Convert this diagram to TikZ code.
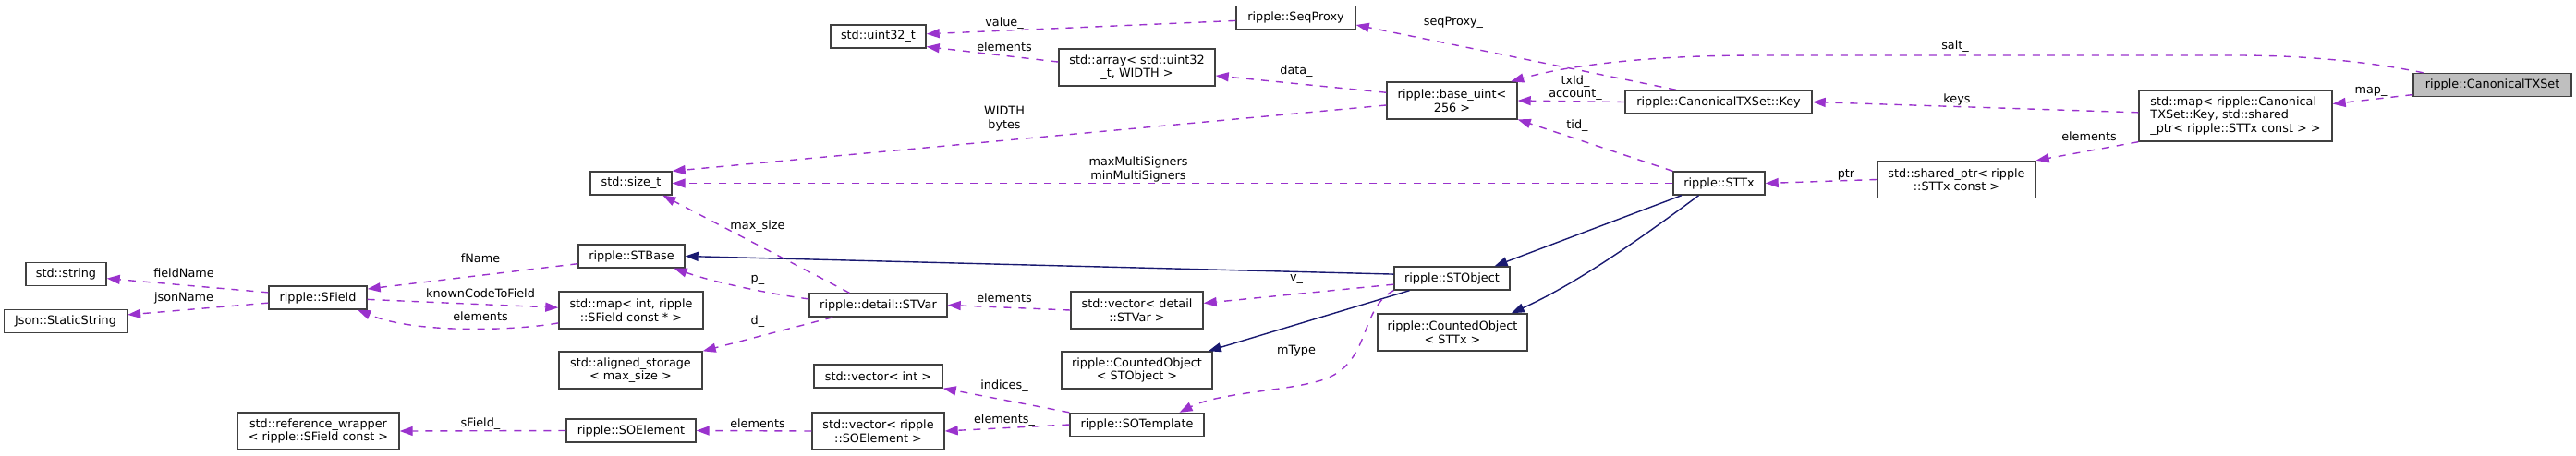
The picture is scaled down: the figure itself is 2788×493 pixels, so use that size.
\documentclass[tikz,border=0pt]{standalone}
\usepackage{fontspec}
\setmainfont{DejaVu Sans}
\usetikzlibrary{arrows.meta}

\definecolor{mempurple}{HTML}{9A32CD}
\definecolor{inhblue}{HTML}{191970}
\definecolor{boxgray}{HTML}{404040}
\definecolor{rootfill}{HTML}{BFBFBF}

\tikzset{
  cls/.style={draw=boxgray, line width=1.4pt, fill=white, inner sep=0pt,
    minimum height=25pt, align=center, font=\fontsize{12.8}{14.5}\selectfont},
  cls2/.style={cls, minimum height=40pt},
  member/.style={draw=mempurple, line width=1.4pt, dash pattern=on 8pt off 8pt,
    -{Triangle[length=14pt,width=10pt,fill=mempurple]}},
  inherit/.style={draw=inhblue, line width=1.4pt,
    -{Triangle[length=14pt,width=10pt,fill=inhblue]}},
  lbl/.style={inner sep=0pt, align=center, font=\fontsize{12.8}{14.5}\selectfont},
}

\begin{document}
\begin{tikzpicture}[x=1pt, y=-1pt]

\useasboundingbox (0,0) rectangle (2788,493);

\node[cls, minimum width=171pt, fill=rootfill] (root) at (2697.5,92) {ripple::CanonicalTXSet};
\node[cls, minimum width=209pt, minimum height=55pt, align=left] (txmap) at (2419.5,125.5) {std::map< ripple::Canonical\\TXSet::Key, std::shared\\\_ptr< ripple::STTx const > >};
\node[cls2, minimum width=171pt] (sptr) at (2117.5,194.5) {std::shared\_ptr< ripple\\::STTx const >};
\node[cls, minimum width=202pt] (key) at (1860,110.5) {ripple::CanonicalTXSet::Key};
\node[cls, minimum width=99pt] (sttx) at (1860.5,198.5) {ripple::STTx};
\node[cls, minimum width=129pt] (seqproxy) at (1402.5,19) {ripple::SeqProxy};
\node[cls2, minimum width=141pt] (baseuint) at (1571.5,109) {ripple::base\_uint<\\256 >};
\node[cls, minimum width=125pt] (stobject) at (1571.5,301.5) {ripple::STObject};
\node[cls2, minimum width=162pt] (cotx) at (1572,360) {ripple::CountedObject\\< STTx >};

\node[cls2, minimum width=169pt] (array) at (1230.5,73) {std::array< std::uint32\\\_t, WIDTH >};
\node[cls2, minimum width=143pt] (vecvar) at (1230.5,336) {std::vector< detail\\::STVar >};
\node[cls2, minimum width=163pt] (cobj) at (1230.5,401) {ripple::CountedObject\\< STObject >};
\node[cls, minimum width=145pt] (sotemplate) at (1230.5,460) {ripple::SOTemplate};

\node[cls, minimum width=103pt] (uint32) at (950.5,39.5) {std::uint32\_t};
\node[cls, minimum width=149pt] (stvar) at (950.5,330.5) {ripple::detail::STVar};
\node[cls, minimum width=139pt] (vecint) at (950.5,407.5) {std::vector< int >};
\node[cls2, minimum width=143pt] (vecsoe) at (950.5,467) {std::vector< ripple\\::SOElement >};

\node[cls, minimum width=88pt] (sizet) at (683,198.5) {std::size\_t};
\node[cls, minimum width=115pt] (stbase) at (683.5,277.5) {ripple::STBase};
\node[cls2, minimum width=156pt] (intmap) at (683,336) {std::map< int, ripple\\::SField const * >};
\node[cls2, minimum width=155pt] (aligned) at (682.5,401) {std::aligned\_storage\\< max\_size >};
\node[cls, minimum width=140pt] (soelement) at (683,466.5) {ripple::SOElement};

\node[cls, minimum width=106pt] (sfield) at (344,322.5) {ripple::SField};
\node[cls2, minimum width=175pt] (refwrap) at (344.5,467) {std::reference\_wrapper\\< ripple::SField const >};
\node[cls, minimum width=87pt] (string) at (71.5,297) {std::string};
\node[cls, minimum width=133pt] (jsonstr) at (71,348) {Json::StaticString};

\draw[member] (root.170) .. controls (2560,66) and (2490,60) .. (2420,60) -- (1900,60) .. controls (1790,60) and (1700,70) .. (baseuint.18);
\draw[member] (root.187) -- (txmap.7);
\draw[member] (txmap.178) -- (key.east);
\draw[member] (txmap.south west) -- (sptr.north east);
\draw[member] (sptr.west) -- (sttx.east);
\draw[member] (key.164) -- (seqproxy.-7);
\draw[member] (key.west) -- (baseuint.east);
\draw[member] (sttx.north west) -- (baseuint.-16);
\draw[member] (sttx.west) -- (sizet.east);
\draw[inherit] (sttx.198) -- (stobject.16);
\draw[inherit] (sttx.211) .. controls (1760,270) and (1700,310) .. (cotx.18);
\draw[inherit] (stobject.176) -- (stbase.east);
\draw[inherit] (stobject.196) -- (cobj.15);
\draw[member] (stobject.186) -- (vecvar.6);
\draw[member] (stobject.south west) .. controls (1470,335) and (1485,395) .. (1430,412) .. controls (1390,424) and (1320,425) .. (sotemplate.16);
\draw[member] (vecvar.west) -- (stvar.east);
\draw[member] (stvar.175) .. controls (830,318) and (770,305) .. (stbase.-16);
\draw[member] (stvar.157) -- (sizet.-21);
\draw[member] (stvar.195) -- (aligned.north east);
\draw[member] (sotemplate.north west) -- (vecint.south east);
\draw[member] (sotemplate.west) -- (vecsoe.east);
\draw[member] (vecsoe.west) -- (soelement.east);
\draw[member] (soelement.west) -- (refwrap.east);
\draw[member] (stbase.188) -- (sfield.10);
\draw[member] (sfield.174) -- (string.-6);
\draw[member] (sfield.186) -- (jsonstr.6);
\draw[member] (sfield.-2) -- (intmap.178);
\draw[member] (intmap.190) .. controls (560,358) and (450,362) .. (sfield.-17);
\draw[member] (seqproxy.183) -- (uint32.3);
\draw[member] (array.176) -- (uint32.-12);
\draw[member] (baseuint.173) -- (array.-6);
\draw[member] (baseuint.184) -- (sizet.north east);

\node[lbl] (l-salt) at (2116,50) {salt\_};
\node[lbl] (l-map) at (2566,99) {map\_};
\node[lbl] (l-keys) at (2118,108) {keys};
\node[lbl] (l-mapelem) at (2261,148) {elements};
\node[lbl] (l-ptr) at (1998,189) {ptr};
\node[lbl] (l-seqproxy) at (1573,24) {seqProxy\_};
\node[lbl] (l-txid) at (1705,95) {txId\_\\account\_};
\node[lbl] (l-tid) at (1707,136) {tid\_};
\node[lbl] (l-multisig) at (1232,183.5) {maxMultiSigners\\minMultiSigners};
\node[lbl] (l-v) at (1403,303) {v\_};
\node[lbl] (l-mtype) at (1403,380) {mType};
\node[lbl] (l-varelem) at (1087,323) {elements};
\node[lbl] (l-p) at (820,303) {p\_};
\node[lbl] (l-maxsize) at (820,245) {max\_size};
\node[lbl] (l-d) at (820,348) {d\_};
\node[lbl] (l-indices) at (1087,418) {indices\_};
\node[lbl] (l-soeelem) at (1087,455) {elements\_};
\node[lbl] (l-vecelem) at (820,459) {elements};
\node[lbl] (l-sfield) at (520,459) {sField\_};
\node[lbl] (l-fname) at (520,280) {fName};
\node[lbl] (l-fieldname) at (199,296) {fieldName};
\node[lbl] (l-jsonname) at (199,323) {jsonName};
\node[lbl] (l-known) at (520,318) {knownCodeToField};
\node[lbl] (l-intelem) at (520,343) {elements};
\node[lbl] (l-value) at (1087,25) {value\_};
\node[lbl] (l-arrelem) at (1087,51) {elements};
\node[lbl] (l-data) at (1403,77) {data\_};
\node[lbl] (l-width) at (1087,128.5) {WIDTH\\bytes};

\end{tikzpicture}
\end{document}
